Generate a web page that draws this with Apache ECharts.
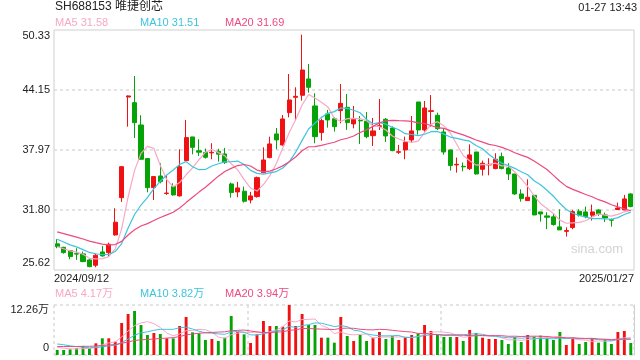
<!DOCTYPE html>
<html><head><meta charset="utf-8">
<script src="https://cdn.jsdelivr.net/npm/echarts@6/dist/echarts.min.js"></script>
<style>html,body{margin:0;padding:0;background:#fff}#c{width:640px;height:360px}</style>
</head><body><div id="c"></div>
<script>
const dates = [
'2024/09/12','2024/09/13','2024/09/18','2024/09/19','2024/09/20','2024/09/23','2024/09/24','2024/09/25','2024/09/26','2024/09/27','2024/09/30',
'2024/10/08','2024/10/09','2024/10/10','2024/10/11','2024/10/14','2024/10/15','2024/10/16','2024/10/17','2024/10/18','2024/10/21','2024/10/22','2024/10/23','2024/10/24','2024/10/25','2024/10/28','2024/10/29','2024/10/30','2024/10/31',
'2024/11/01','2024/11/04','2024/11/05','2024/11/06','2024/11/07','2024/11/08','2024/11/11','2024/11/12','2024/11/13','2024/11/14','2024/11/15','2024/11/18','2024/11/19','2024/11/20','2024/11/21','2024/11/22','2024/11/25','2024/11/26','2024/11/27','2024/11/28','2024/11/29',
'2024/12/02','2024/12/03','2024/12/04','2024/12/05','2024/12/06','2024/12/09','2024/12/10','2024/12/11','2024/12/12','2024/12/13','2024/12/16','2024/12/17','2024/12/18','2024/12/19','2024/12/20','2024/12/23','2024/12/24','2024/12/25','2024/12/26','2024/12/27','2024/12/30','2024/12/31',
'2025/01/02','2025/01/03','2025/01/06','2025/01/07','2025/01/08','2025/01/09','2025/01/10','2025/01/13','2025/01/14','2025/01/15','2025/01/16','2025/01/17','2025/01/20','2025/01/21','2025/01/22','2025/01/23','2025/01/24','2025/01/27'];

const opens = [28.31,27.96,27.62,27.30,27.28,26.66,26.11,27.48,27.41,29.23,
33.07,43.43,42.85,40.55,37.09,34.10,35.30,33.50,34.21,33.25,
36.88,39.32,37.90,37.71,37.68,37.85,37.57,34.48,33.66,33.73,
32.83,33.18,35.65,37.19,39.63,38.49,41.82,43.40,43.61,45.29,
42.51,39.77,41.69,41.20,42.03,42.37,40.66,41.03,40.93,39.45,
40.40,41.14,40.24,37.74,37.98,39.01,42.92,40.04,41.95,41.55,
39.83,37.98,36.44,36.30,36.06,37.77,35.99,36.44,36.06,37.29,
36.13,35.51,33.45,32.77,33.31,31.60,31.19,31.09,30.06,29.60,
29.99,31.67,31.60,31.26,31.80,31.29,30.80,31.85,31.80,33.45];
const closes = [28.03,27.41,27.00,27.26,26.49,25.97,27.14,27.07,28.27,30.54,
36.26,43.54,40.79,37.02,34.10,35.24,34.72,33.54,33.35,36.26,
39.25,38.25,37.75,37.23,37.74,37.55,36.68,33.59,34.07,32.70,
33.25,35.13,36.95,38.60,39.01,41.17,43.13,43.50,46.21,44.43,
39.35,41.00,41.07,40.38,42.78,40.79,41.14,40.98,39.35,39.94,
40.47,39.42,37.91,37.80,38.77,39.94,40.04,42.30,42.02,40.17,
37.77,36.37,36.50,36.24,37.47,35.51,36.61,36.50,37.02,36.06,
35.51,33.45,32.97,33.11,31.29,31.39,31.05,30.30,29.75,29.68,
31.63,31.26,31.12,31.60,31.39,30.98,30.75,32.00,32.94,32.15];
const lows = [27.86,27.30,26.73,26.66,26.42,25.90,25.90,27.00,27.00,29.16,
32.63,40.38,39.21,37.00,33.62,32.83,34.55,33.35,33.28,33.18,
36.88,37.53,37.36,37.09,37.02,36.78,36.54,33.07,33.11,32.56,
32.49,33.07,35.58,37.12,38.05,38.43,41.34,41.07,43.06,43.88,
38.67,38.94,40.28,39.87,40.72,40.04,40.21,38.60,39.18,38.39,
40.04,38.80,37.85,37.57,37.02,38.73,39.56,39.87,40.38,40.04,
37.50,35.85,35.65,35.78,35.92,35.44,35.34,35.37,35.99,35.99,
34.89,33.35,32.66,32.77,31.26,30.60,29.82,30.19,29.75,29.06,
29.82,31.12,30.95,30.71,31.19,30.57,30.09,31.80,31.80,32.08];
const highs = [28.79,28.00,27.65,27.86,27.52,26.73,27.28,28.10,28.44,31.98,
36.33,43.60,45.60,41.55,37.16,35.24,36.61,35.41,34.55,38.05,
41.07,39.32,39.08,38.12,38.67,38.10,38.19,34.62,34.69,34.21,
33.66,35.24,38.25,39.35,40.24,41.58,45.80,44.43,49.85,46.83,
43.81,41.20,42.10,41.35,44.77,43.74,42.51,41.48,41.89,41.27,
43.23,41.27,40.40,38.50,39.35,41.48,42.92,43.02,43.64,41.82,
40.17,38.00,37.19,36.68,38.56,37.77,36.88,37.12,37.64,37.71,
36.61,35.51,33.93,34.96,33.31,31.60,31.57,31.40,31.87,30.02,
31.80,31.87,32.15,32.36,31.87,31.53,30.91,32.56,33.35,33.52];
// volume in 万
const volumes = [1.23,1.23,1.39,1.63,2.21,1.63,2.86,4.09,4.09,3.27,
7.85,10.05,10.79,7.36,4.90,5.39,5.15,4.09,4.09,7.11,
9.32,5.56,5.31,3.68,3.92,3.43,4.25,9.56,5.72,5.07,
2.94,5.07,8.34,7.11,7.11,6.95,12.26,7.11,10.05,7.36,
7.36,4.25,4.25,3.02,9.32,4.66,3.43,4.90,3.43,4.25,
5.64,3.92,4.66,3.68,4.25,4.90,5.31,7.36,5.88,5.07,
4.41,4.41,4.41,3.43,6.13,5.39,4.25,3.92,3.92,3.68,
2.70,4.41,3.19,4.90,4.50,4.74,4.09,3.68,5.64,2.45,
4.25,2.70,3.19,4.09,3.02,3.92,2.70,5.64,5.88,2.94];
// sessions before the visible window (estimated from where the MA lines start)
const priorCloses = [30.9,30.6,30.8,30.5,30.2,30.4,29.9,30.1,29.8,29.7,30.3,29.9,29.4,29.3,28.85,28.5,28.1,27.9,27.62];
const priorVolumes = [1.6,1.4,1.5,1.3,1.7,1.5,1.4,1.6,1.5,1.5,3.0,4.2,3.6,3.4,3.3,2.4,2.1,1.9,1.87];

const priceTicks = ['25.62','31.80','37.97','44.15','50.33'];
const priceMin = 25.62, priceMax = 50.33;
const volTicks = ['0','12.26万'];
const volMax = 12.26;
const stockTitle = 'SH688153 唯捷创芯';
const timeStamp = '01-27 13:43';
const priceMaLegend = ['MA5 31.58','MA10 31.51','MA20 31.69'];
const volMaLegend = ['MA5 4.17万','MA10 3.82万','MA20 3.94万'];

const UP = '#f01212', DOWN = '#06a306';
const MA_COLORS = ['#f8a8c6','#3ec4de','#ec4a80'];
const FONT = '"Liberation Sans", Arial, "Noto Sans CJK SC", sans-serif';

function ma(prior, vals, n) {
  const all = prior.concat(vals);
  return vals.map((_, i) => {
    const end = prior.length + i;
    let s = 0;
    for (let k = end - n + 1; k <= end; k++) s += all[k];
    return +(s / n).toFixed(3);
  });
}

const GL = 54, GR = 6;
const chart = echarts.init(document.getElementById('c'), null, {renderer: 'canvas'});
const dotted = {color: '#dadada', width: 1.5, type: [3, 3]};

const lineSeries = (data, color, xi, yi, w) => ({
  type: 'line', data, xAxisIndex: xi, yAxisIndex: yi, symbol: 'none', silent: true,
  lineStyle: {color, width: w}, z: 3
});

const option = {
  animation: false,
  textStyle: {fontFamily: FONT},
  grid: [
    {left: GL, right: GR, top: 30, height: 240, show: true, borderColor: '#cfcfcf', borderWidth: 1},
    {left: GL, right: GR, top: 305, height: 50}
  ],
  xAxis: [
    {type: 'category', gridIndex: 0, data: dates, boundaryGap: true, axisLine: {show: false}, axisTick: {show: false}, axisLabel: {show: false}, splitLine: {show: false}},
    {type: 'value', gridIndex: 0, min: 0, max: 1, interval: 1, position: 'bottom', axisLine: {show: false}, axisTick: {show: false}, splitLine: {show: false},
      axisLabel: {showMaxLabel: false, align: 'left', margin: 3, fontSize: 11, color: '#222', fontFamily: FONT, formatter: () => dates[0]}},
    {type: 'value', gridIndex: 0, min: 0, max: 1, interval: 1, position: 'bottom', axisLine: {show: false}, axisTick: {show: false}, splitLine: {show: false},
      axisLabel: {showMinLabel: false, align: 'right', margin: 3, fontSize: 11, color: '#222', fontFamily: FONT, formatter: () => dates[dates.length - 1]}},
    {type: 'category', gridIndex: 1, data: dates, boundaryGap: true, axisLine: {show: false}, axisTick: {show: false}, axisLabel: {show: false}, splitLine: {show: false}},
    {type: 'value', gridIndex: 1, min: 0, max: 3, interval: 1, position: 'bottom', axisLine: {show: false}, axisTick: {show: false}, axisLabel: {show: false},
      splitLine: {show: true, lineStyle: dotted}}
  ],
  yAxis: [
    {type: 'value', gridIndex: 0, min: priceMin, max: priceMax, show: false, scale: true},
    {type: 'value', gridIndex: 0, min: 0, max: priceTicks.length - 1, interval: 1, position: 'left',
      axisLine: {show: false}, axisTick: {show: false},
      splitLine: {show: true, showMinLine: false, showMaxLine: false, lineStyle: dotted},
      axisLabel: {margin: 4, fontSize: 11, color: '#222', fontFamily: FONT,
        formatter: v => v === priceTicks.length - 1 ? '{t|' + priceTicks[v] + '}' : (v === 0 ? '{b|' + priceTicks[v] + '}' : priceTicks[v]),
        rich: {t: {padding: [11, 0, 0, 0], fontSize: 11, color: '#222', fontFamily: FONT}, b: {padding: [0, 0, 14, 0], fontSize: 11, color: '#222', fontFamily: FONT}}}},
    {type: 'value', gridIndex: 1, min: 0, max: volMax, interval: volMax, position: 'left',
      axisLine: {show: false}, axisTick: {show: false},
      splitLine: {show: true, lineStyle: dotted},
      axisLabel: {margin: 5, fontSize: 11, color: '#222', fontFamily: FONT,
        formatter: v => v === 0 ? '{b|' + volTicks[0] + '}' : '{t|' + volTicks[1] + '}',
        rich: {t: {padding: [10, 0, 0, 0], fontSize: 11, color: '#222', fontFamily: FONT}, b: {padding: [0, 0, 14, 0], fontSize: 11, color: '#222', fontFamily: FONT}}}},
    {type: 'value', gridIndex: 1, min: 0, max: 1, interval: 1, position: 'right',
      axisLine: {show: true, lineStyle: {color: '#cfcfcf', width: 1}}, axisTick: {show: false}, axisLabel: {show: false}, splitLine: {show: false}}
  ],
  series: [
    {type: 'candlestick', xAxisIndex: 0, yAxisIndex: 0, barWidth: '70%',
      data: dates.map((d, i) => [opens[i], closes[i], lows[i], highs[i]]),
      itemStyle: {color: UP, color0: DOWN, borderColor: UP, borderColor0: DOWN, borderWidth: 1}, z: 2},
    lineSeries(ma(priorCloses, closes, 5), MA_COLORS[0], 0, 0, 1.2),
    lineSeries(ma(priorCloses, closes, 10), MA_COLORS[1], 0, 0, 1.2),
    lineSeries(ma(priorCloses, closes, 20), MA_COLORS[2], 0, 0, 1.2),
    {type: 'bar', xAxisIndex: 3, yAxisIndex: 2, barWidth: '45%',
      data: volumes.map((v, i) => ({value: v, itemStyle: {color: closes[i] >= opens[i] ? UP : DOWN}})), z: 2},
    lineSeries(ma(priorVolumes, volumes, 5), MA_COLORS[0], 3, 2, 1),
    lineSeries(ma(priorVolumes, volumes, 10), MA_COLORS[1], 3, 2, 1),
    lineSeries(ma(priorVolumes, volumes, 20), MA_COLORS[2], 3, 2, 1)
  ],
  graphic: [
    {type: 'text', left: 55, top: 1, style: {text: stockTitle, font: '12px ' + FONT, fill: '#222'}},
    {type: 'text', right: 3, top: 2, style: {text: timeStamp, font: '11px ' + FONT, fill: '#222'}},
    {type: 'text', left: 55, top: 17, style: {text: priceMaLegend[0], font: '11px ' + FONT, fill: MA_COLORS[0]}},
    {type: 'text', left: 140, top: 17, style: {text: priceMaLegend[1], font: '11px ' + FONT, fill: MA_COLORS[1]}},
    {type: 'text', left: 225, top: 17, style: {text: priceMaLegend[2], font: '11px ' + FONT, fill: MA_COLORS[2]}},
    {type: 'text', left: 55, top: 288, style: {text: volMaLegend[0], font: '11px ' + FONT, fill: MA_COLORS[0]}},
    {type: 'text', left: 140, top: 288, style: {text: volMaLegend[1], font: '11px ' + FONT, fill: MA_COLORS[1]}},
    {type: 'text', left: 225, top: 288, style: {text: volMaLegend[2], font: '11px ' + FONT, fill: MA_COLORS[2]}},
    {type: 'text', right: 17, top: 243, style: {text: 'sina.com', font: '13px ' + FONT, fill: '#d3d3d3'}, z: 1}
  ]
};
chart.setOption(option);
</script>
</body></html>
